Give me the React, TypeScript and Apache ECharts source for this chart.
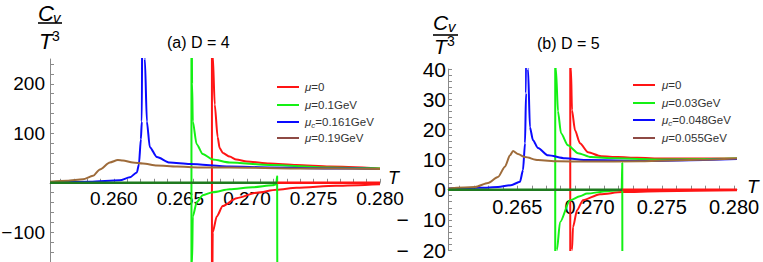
import React, { useEffect, useRef } from "react";
import * as echarts from "echarts";

// ---------- Panel (a) D = 4 ----------
const redUpA = [[0.26737, 400], [0.26743, 259], [0.26758, 158], [0.2678, 92], [0.26795, 70], [0.2682, 60], [0.2687, 53], [0.2692, 47], [0.27, 43], [0.2717, 39], [0.2737, 36], [0.2762, 33], [0.28, 29]];
const redDownA = [[0.26737, -400], [0.26743, -100], [0.26773, -68], [0.26818, -47], [0.26923, -31], [0.27073, -20], [0.27223, -14], [0.27373, -10], [0.2767, -6], [0.28, -3]];
const redJumpA = [[0.26737, -400], [0.26737, 400]];
const greenUpA = [[0.26583, 400], [0.26588, 200], [0.26593, 124], [0.26622, 78], [0.26668, 58], [0.26743, 47], [0.2687, 41], [0.2717, 36], [0.2762, 31], [0.28, 29]];
const greenDownA = [[0.26583, -400], [0.26588, -160], [0.26593, -68], [0.26623, -39], [0.26668, -25], [0.26743, -19], [0.2687, -13], [0.27043, -9], [0.27193, -5], [0.2722, -3], [0.27227, 13], [0.27229, -400]];
const greenJumpA = [[0.26583, -400], [0.26583, 400]];
const blueA = [[0.2552, 1], [0.2582, 2], [0.26045, 5], [0.2612, 11], [0.26173, 21], [0.26188, 37], [0.26203, 88], [0.2621, 124], [0.26214, 400], [0.2623, 400], [0.26233, 250], [0.26248, 124], [0.2627, 72], [0.26323, 52], [0.2642, 41], [0.2657, 38], [0.2687, 33], [0.2717, 31], [0.2762, 29], [0.28, 28]];
const brownA = [[0.2552, 2], [0.25648, 4], [0.25768, 7], [0.25843, 14], [0.25895, 27], [0.2597, 41], [0.2603, 46], [0.26068, 45], [0.26143, 41], [0.26218, 39], [0.26323, 35], [0.26473, 33], [0.26645, 31], [0.2687, 31], [0.27395, 29], [0.28, 28]];
const zeroGreenA = [[0.2552, 0], [0.27229, 0]];
const zeroRedA = [[0.27229, 0], [0.28, 0]];
const xLabelsA = [0.26, 0.265, 0.27, 0.275, 0.28];
const yLabelsA = [-100, 100, 200];
const legendA = ["{i|μ}{n|=0}", "{i|μ}{n|=0.1GeV}", "{i|μ}{s|c}{n|=0.161GeV}", "{i|μ}{n|=0.19GeV}"];

// ---------- Panel (b) D = 5 ----------
const redUpB = [[0.26866, 100], [0.26871, 40], [0.26878, 26.3], [0.26899, 19.7], [0.26933, 15.4], [0.26989, 12.4], [0.27079, 11.1], [0.27196, 10.8], [0.27328, 10.6], [0.27508, 10.3], [0.2802, 10.3]];
const redDownB = [[0.26866, -100], [0.26878, -20], [0.26885, -12.4], [0.26913, -6.8], [0.26954, -3.5], [0.27072, -1.5], [0.27224, -0.8], [0.27487, -0.5], [0.2802, -0.2]];
const redJumpB = [[0.26866, -100], [0.26866, 100]];
const greenUpB = [[0.26762, 100], [0.26767, 40], [0.26781, 26], [0.26802, 18.7], [0.2685, 14.7], [0.2692, 12.1], [0.2701, 10.8], [0.27176, 10.4], [0.27508, 10], [0.2802, 10.3]];
const greenDownB = [[0.26762, -100], [0.26774, -20], [0.26795, -10.8], [0.26864, -3.5], [0.26933, -2.2], [0.26982, -1.3], [0.2712, -0.5], [0.27196, -0.2], [0.27222, 0], [0.27226, 8.8], [0.27228, -100]];
const greenJumpB = [[0.26762, -100], [0.26762, 100]];
const blueB = [[0.2602, 0.4], [0.26248, 0.6], [0.26366, 0.9], [0.26456, 1.5], [0.26518, 2.6], [0.26539, 6.5], [0.26553, 15.4], [0.2656, 32], [0.26563, 100], [0.26572, 100], [0.26574, 40], [0.26587, 20.7], [0.26608, 16.4], [0.26643, 13.8], [0.26712, 11.4], [0.2683, 10.4], [0.26989, 9.8], [0.2735, 9.5], [0.2802, 10.2]];
const brownB = [[0.2602, 0.4], [0.26207, 0.9], [0.26297, 2.2], [0.26366, 4.2], [0.26414, 7.6], [0.26449, 11.4], [0.2647, 12.8], [0.26504, 11.8], [0.26553, 10.8], [0.26643, 9.8], [0.26781, 9.4], [0.26989, 9.3], [0.2735, 9.4], [0.27764, 9.9], [0.2802, 10.3]];
const zeroGreenB = [[0.2602, 0], [0.27228, 0]];
const zeroRedB = [[0.27228, 0], [0.2802, 0]];
const xLabelsB = [0.265, 0.27, 0.275, 0.28];
const yLabelsB = [-20, -10, 0, 10, 20, 30, 40];
const legendB = ["{i|μ}{n|=0}", "{i|μ}{n|=0.03GeV}", "{i|μ}{s|c}{n|=0.048GeV}", "{i|μ}{n|=0.055GeV}"];

const titles = ["(a) D = 4", "(b) D = 5"];

const RED = "#ff1414";
const GREEN = "#14f014";
const BLUE = "#0a0aff";
const BROWN = "#9e6b3a";
const DKGREEN = "#1f7a1f";
const LEG = [RED, GREEN, BLUE, "#8e4a44"];
const FONT = "'Liberation Sans', Arial, sans-serif";
const AXIS = "#8a8a8a";

function steps(a: number, b: number, s: number) {
  const out: number[] = [];
  for (let k = 0; a + k * s <= b + s * 1e-6; k++) out.push(+(a + k * s).toFixed(6));
  return out;
}

function line(data: number[][], color: string, idx: number, smooth = true, width = 2) {
  return {
    type: "line",
    data,
    xAxisIndex: idx,
    yAxisIndex: idx,
    showSymbol: false,
    symbol: "none",
    smooth: smooth ? 0.25 : false,
    smoothMonotone: "x",
    clip: true,
    silent: true,
    lineStyle: { color, width },
  };
}

function legendGraphics(items: string[], lineX: number, textX: number, ys: number[]) {
  const g: any[] = [];
  items.forEach((t, i) => {
    g.push({
      type: "line",
      shape: { x1: lineX, y1: ys[i], x2: lineX + 22, y2: ys[i] },
      style: { stroke: LEG[i], lineWidth: 2 },
    });
    g.push({
      type: "text",
      x: textX,
      y: ys[i],
      style: {
        text: t,
        verticalAlign: "middle",
        align: "left",
        rich: {
          i: { fontStyle: "italic", fontSize: 11.5, fontFamily: FONT, fill: "#333", lineHeight: 14 },
          n: { fontSize: 11.5, fontFamily: FONT, fill: "#333", lineHeight: 14 },
          s: { fontStyle: "italic", fontSize: 8, fontFamily: FONT, fill: "#333", lineHeight: 8, verticalAlign: "bottom" },
        },
      },
    });
  });
  return g;
}

function fraction(cx: number, cy: number, barY: number, tx: number, ty: number, x1: number, x2: number, fs: number) {
  return [
    { type: "text", x: cx, y: cy, style: { text: "C", font: `italic ${fs}px ${FONT}`, fill: "#000", align: "left", verticalAlign: "middle" } },
    { type: "text", x: cx + 15, y: cy + 4, style: { text: "v", font: `italic 15px ${FONT}`, fill: "#000", align: "left", verticalAlign: "middle" } },
    { type: "line", shape: { x1, y1: barY, x2, y2: barY }, style: { stroke: "#000", lineWidth: 1.6 } },
    { type: "text", x: tx, y: ty, style: { text: "T", font: `italic ${fs}px ${FONT}`, fill: "#000", align: "left", verticalAlign: "middle" } },
    { type: "text", x: tx + 13, y: ty - 5, style: { text: "3", font: `14px ${FONT}`, fill: "#000", align: "left", verticalAlign: "middle" } },
  ];
}

export default function App() {
  const ref = useRef<HTMLDivElement>(null);
  useEffect(() => {
    if (!ref.current) return;
    const chart = echarts.init(ref.current, undefined, { renderer: "svg" });
    // geometry of the two panels (pixels)
    const gA = { left: 50, top: 59, width: 330, height: 203 };
    const gB = { left: 448, top: 69, width: 289, height: 181 };
    const yA = [-160, 250];
    const yB = [-20, 40];
    const zeroOffset = (g: any, y: number[]) => -(g.height * (0 - y[0])) / (y[1] - y[0]);
    const xAxisBase = (grid: number, min: number, max: number, ticks: number[], labels: number[], fs: number, margin: number, offset: number) => ({
      type: "value",
      gridIndex: grid,
      position: "bottom",
      offset,
      min,
      max,
      splitLine: { show: false },
      axisLine: { show: true, onZero: false, lineStyle: { color: AXIS, width: 1 } },
      axisTick: { show: true, inside: true, length: 4, customValues: ticks, lineStyle: { color: AXIS, width: 1 } },
      axisLabel: { customValues: labels, formatter: (v: number) => v.toFixed(3), fontSize: fs, color: "#000", fontFamily: FONT, margin },
    });
    const yAxisBase = (grid: number, min: number, max: number, ticks: number[], labels: number[], fs: number, margin: number, gap: number) => ({
      type: "value",
      gridIndex: grid,
      position: "left",
      min,
      max,
      splitLine: { show: false },
      axisLine: { show: true, onZero: false, lineStyle: { color: AXIS, width: 1 } },
      axisTick: { show: true, inside: true, length: 4, customValues: ticks, lineStyle: { color: AXIS, width: 1 } },
      axisLabel: {
        customValues: labels,
        formatter: (v: number) => (v < 0 ? "{m|\u2212}{d|" + Math.abs(v) + "}" : "{d|" + v + "}"),
        rich: {
          m: { fontSize: fs, color: "#000", fontFamily: FONT, padding: [0, gap, 0, 0] },
          d: { fontSize: fs, color: "#000", fontFamily: FONT },
        },
        fontSize: fs,
        color: "#000",
        fontFamily: FONT,
        margin,
      },
    });
    chart.setOption({
      animation: false,
      backgroundColor: "#fff",
      grid: [
        { ...gA, containLabel: false, outerBoundsMode: "none" },
        { ...gB, containLabel: false, outerBoundsMode: "none" },
      ],
      xAxis: [
        xAxisBase(0, 0.2552, 0.28, steps(0.256, 0.28, 0.001), xLabelsA, 19, 6, zeroOffset(gA, yA)),
        xAxisBase(1, 0.2602, 0.2802, steps(0.261, 0.28, 0.001), xLabelsB, 20, 7, zeroOffset(gB, yB)),
      ],
      yAxis: [
        yAxisBase(0, yA[0], yA[1], steps(-160, 240, 20), yLabelsA, 19, 5, 1),
        yAxisBase(1, yB[0], yB[1], steps(-20, 40, 2), yLabelsB, 21, 2, 14),
      ],
      series: [
        line(redJumpA, RED, 0, false),
        line(redUpA, RED, 0),
        line(redDownA, RED, 0),
        line(greenJumpA, GREEN, 0, false),
        line(greenUpA, GREEN, 0),
        line(greenDownA, GREEN, 0),
        line(blueA, BLUE, 0),
        line(brownA, BROWN, 0),
        line(zeroGreenA, DKGREEN, 0, false, 2.5),
        line(zeroRedA, RED, 0, false, 2.5),
        line(redJumpB, RED, 1, false),
        line(redUpB, RED, 1),
        line(redDownB, RED, 1),
        line(greenJumpB, GREEN, 1, false),
        line(greenUpB, GREEN, 1),
        line(greenDownB, GREEN, 1),
        line(blueB, BLUE, 1),
        line(brownB, BROWN, 1),
        line(zeroGreenB, DKGREEN, 1, false, 2.5),
        line(zeroRedB, RED, 1, false, 2.5),
      ],
      graphic: [
        ...fraction(38, 13, 23, 39, 41, 38, 62, 22),
        ...fraction(433, 22, 35, 434, 46, 433, 458, 21),
        { type: "text", x: 167, y: 42, style: { text: titles[0], font: `16px ${FONT}`, fill: "#000", verticalAlign: "middle" } },
        { type: "text", x: 537, y: 43, style: { text: titles[1], font: `16px ${FONT}`, fill: "#000", verticalAlign: "middle" } },
        { type: "text", x: 388, y: 178, style: { text: "T", font: `italic 18px ${FONT}`, fill: "#000", verticalAlign: "middle" } },
        { type: "text", x: 747, y: 186, style: { text: "T", font: `italic 19px ${FONT}`, fill: "#000", verticalAlign: "middle" } },
        ...legendGraphics(legendA, 277, 305, [87, 105, 122, 138]),
        ...legendGraphics(legendB, 633, 662, [85, 103, 120, 138]),
      ],
    });
    return () => chart.dispose();
  }, []);
  return <div ref={ref} style={{ position: "fixed", left: 0, top: 0, width: 763, height: 262 }} />;
}
